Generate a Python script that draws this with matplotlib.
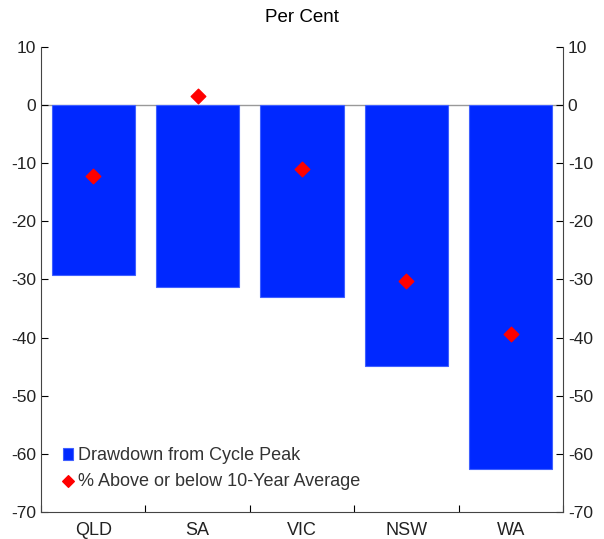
import matplotlib.pyplot as plt
import numpy as np

plt.rcParams['font.family'] = ['Liberation Sans', 'DejaVu Sans']

states = ['QLD', 'SA', 'VIC', 'NSW', 'WA']
drawdown = [-29.2, -31.3, -33.0, -44.9, -62.6]
vs_avg = [-12.2, 1.5, -11.0, -30.3, -39.4]
yticks = [10, 0, -10, -20, -30, -40, -50, -60, -70]

txt = '#333333'

fig = plt.figure(figsize=(6.04, 5.39), dpi=100)
ax = fig.add_axes([0.068, 0.050, 0.864, 0.863])

x = np.arange(len(states))
ax.axhline(0, color='#999999', lw=1, zorder=1)
bars = ax.bar(x, drawdown, width=0.8, color='#0028ff', edgecolor='#4060ff', lw=0.8,
              zorder=2, label='Drawdown from Cycle Peak')
pts = ax.scatter(x, vs_avg, marker='D', s=55, color='#ff0000', zorder=3,
                 label='% Above or below 10-Year Average')

ax.set_xlim(-0.5, len(states) - 0.5)
ax.set_ylim(-70, 10)
ax.set_yticks(yticks)
ax.set_yticklabels([str(v) for v in yticks])
ax.tick_params(axis='y', direction='in', length=5, labelsize=12.5, labelcolor='#222222',
               right=True, labelright=True)
ax.set_xticks(np.arange(len(states) + 1) - 0.5)
ax.set_xticklabels([])
ax.set_xticks(x, minor=True)
ax.set_xticklabels(states, minor=True)
ax.tick_params(axis='x', which='major', direction='in', length=5)
ax.tick_params(axis='x', which='minor', length=0, labelsize=13, pad=7, labelcolor='#222222')
ax.spines['top'].set_visible(False)
for s in ['left', 'right', 'bottom']:
    ax.spines[s].set_color('#444444')

ax.set_title('Per Cent', fontsize=13.5, pad=18)

leg = ax.legend([bars, pts], [bars.get_label(), pts.get_label()],
                loc='lower left', bbox_to_anchor=(0.01, 0.012), frameon=False, fontsize=13,
                handlelength=0.6, handletextpad=0.25, labelspacing=0.5, markerscale=0.8)
for t in leg.get_texts():
    t.set_color(txt)

fig.savefig('out.png', dpi=100)
